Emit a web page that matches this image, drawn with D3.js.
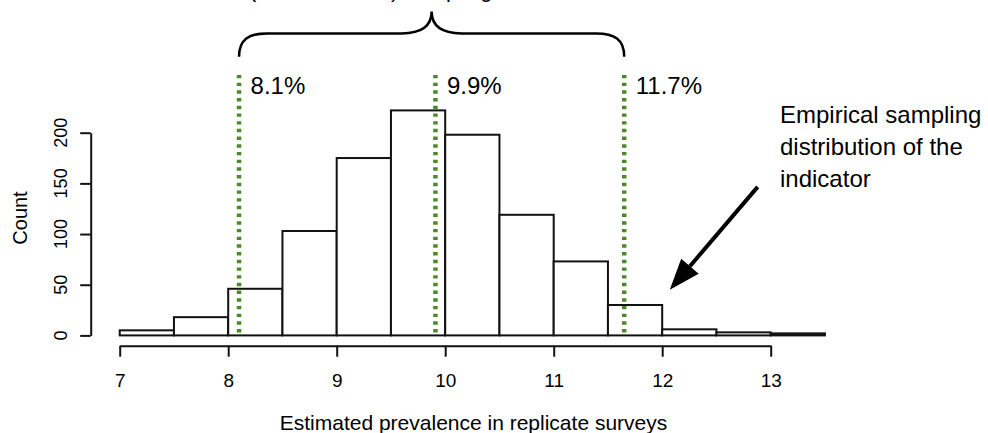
<!DOCTYPE html>
<html>
<head>
<meta charset="utf-8">
<script src="https://cdn.jsdelivr.net/npm/d3@7"></script>
<style>
  html, body { margin: 0; padding: 0; background: #fff; }
  svg text { font-family: "Liberation Sans", Arial, Helvetica, sans-serif; fill: #000; }
</style>
</head>
<body>
<div id="chart"></div>
<script>
// histogram bins (lower edge) and counts
const binStarts = [7, 7.5, 8, 8.5, 9, 9.5, 10, 10.5, 11, 11.5, 12, 12.5, 13];
const binWidth = 0.5;
const counts = [5, 18, 46, 103, 175, 222, 198, 119, 73, 30, 6, 3, 2];

const xTicks = [7, 8, 9, 10, 11, 12, 13];
const yTicks = [0, 50, 100, 150, 200];

// percentile lines
const quantiles = [8.1, 9.91, 11.65];
const quantileLabels = ["8.1%", "9.9%", "11.7%"];

const captionTop = "(2.5th – 97.5th) sampling interval";
const annotationLines = ["Empirical sampling", "distribution of the", "indicator"];
const xTitle = "Estimated prevalence in replicate surveys";
const yTitle = "Count";

const W = 988, H = 433;
const green = "#4b8a26";

const svg = d3.select("#chart").append("svg")
  .attr("width", W)
  .attr("height", H)
  .attr("viewBox", `0 0 ${W} ${H}`);

const x = d3.scaleLinear().domain([7, 13]).range([119.7, 770.7]);
const y = d3.scaleLinear().domain([0, 200]).range([335.4, 132.7]);

// bars
svg.append("g")
  .selectAll("rect")
  .data(binStarts.map((b, i) => ({ b, c: counts[i] })))
  .join("rect")
  .attr("x", d => x(d.b))
  .attr("y", d => y(d.c))
  .attr("width", d => x(d.b + binWidth) - x(d.b))
  .attr("height", d => y(0) - y(d.c))
  .attr("fill", "#fff")
  .attr("stroke", "#111")
  .attr("stroke-width", 2);

// x axis
const xAxis = svg.append("g")
  .attr("transform", `translate(0, 345.7)`)
  .call(d3.axisBottom(x).tickValues(xTicks).tickFormat(d3.format("d"))
    .tickSize(11).tickSizeOuter(0).tickPadding(17));
xAxis.select(".domain").attr("stroke", "#111").attr("stroke-width", 2);
xAxis.selectAll(".tick line").attr("stroke", "#111").attr("stroke-width", 2);
xAxis.selectAll(".tick text")
  .attr("font-family", "Liberation Sans, Arial, sans-serif")
  .attr("font-size", 19)
  .attr("fill", "#000");

// y axis
const yAxis = svg.append("g")
  .attr("transform", `translate(90.7, 0)`)
  .call(d3.axisLeft(y).tickValues(yTicks).tickSize(10.5).tickSizeOuter(0).tickFormat(""));
yAxis.select(".domain").attr("stroke", "#111").attr("stroke-width", 2);
yAxis.selectAll(".tick line").attr("stroke", "#111").attr("stroke-width", 2);

svg.append("g")
  .selectAll("text")
  .data(yTicks)
  .join("text")
  .attr("transform", d => `translate(67, ${y(d)}) rotate(-90)`)
  .attr("text-anchor", "middle")
  .attr("font-size", 18)
  .text(d => d);

// axis titles
svg.append("text")
  .attr("x", 473.5)
  .attr("y", 430)
  .attr("text-anchor", "middle")
  .attr("font-size", 21)
  .text(xTitle);

svg.append("text")
  .attr("transform", `translate(27, 218) rotate(-90)`)
  .attr("text-anchor", "middle")
  .attr("font-size", 20)
  .text(yTitle);

// dotted percentile lines + labels
const q = svg.append("g");
q.selectAll("line")
  .data(quantiles)
  .join("line")
  .attr("x1", d => x(d))
  .attr("x2", d => x(d))
  .attr("y1", y(257))
  .attr("y2", y(2))
  .attr("stroke", green)
  .attr("stroke-width", 4.5)
  .attr("stroke-dasharray", "3.4,4.3");

q.selectAll("text")
  .data(quantiles)
  .join("text")
  .attr("x", d => x(d) + 11.5)
  .attr("y", 93.5)
  .attr("font-size", 24)
  .text((d, i) => quantileLabels[i]);

// curly brace spanning the interval
const bx0 = x(quantiles[0]), bx1 = x(quantiles[2]), bm = (bx0 + bx1) / 2;
const yEnd = y(275), yFlat = y(298), yPeak = y(319.5);
const brace = d3.path();
brace.moveTo(bx0, yEnd);
brace.bezierCurveTo(bx0, yFlat + 6, bx0 + 10, yFlat, bx0 + 28, yFlat);
brace.lineTo(bm - 30, yFlat);
brace.bezierCurveTo(bm - 12, yFlat, bm, yFlat - 6, bm, yPeak);
brace.bezierCurveTo(bm, yFlat - 6, bm + 12, yFlat, bm + 30, yFlat);
brace.lineTo(bx1 - 28, yFlat);
brace.bezierCurveTo(bx1 - 10, yFlat, bx1, yFlat + 6, bx1, yEnd);
svg.append("path")
  .attr("d", brace.toString())
  .attr("fill", "none")
  .attr("stroke", "#000")
  .attr("stroke-width", 2.5);

// caption above the brace (only its descenders reach into the picture, as in the source)
svg.append("text")
  .attr("x", 249)
  .attr("y", -3.5)
  .attr("font-size", 22)
  .text(captionTop);

// annotation text
svg.append("g")
  .selectAll("text")
  .data(annotationLines)
  .join("text")
  .attr("x", 780)
  .attr("y", (d, i) => 123 + i * 32)
  .attr("font-size", 24)
  .text(d => d);

// arrow
const from = [x(12.88), y(146.5)], to = [x(12.07), y(45)];
const ang = Math.atan2(to[1] - from[1], to[0] - from[0]);
const headLen = 31, headHalf = 11.5;
const base = [to[0] - headLen * Math.cos(ang), to[1] - headLen * Math.sin(ang)];
svg.append("line")
  .attr("x1", from[0]).attr("y1", from[1])
  .attr("x2", base[0]).attr("y2", base[1])
  .attr("stroke", "#000")
  .attr("stroke-width", 4);
svg.append("path")
  .attr("d", d3.line()([
    to,
    [base[0] + headHalf * Math.sin(ang), base[1] - headHalf * Math.cos(ang)],
    [base[0] - headHalf * Math.sin(ang), base[1] + headHalf * Math.cos(ang)]
  ]) + "Z")
  .attr("fill", "#000");
</script>
</body>
</html>
